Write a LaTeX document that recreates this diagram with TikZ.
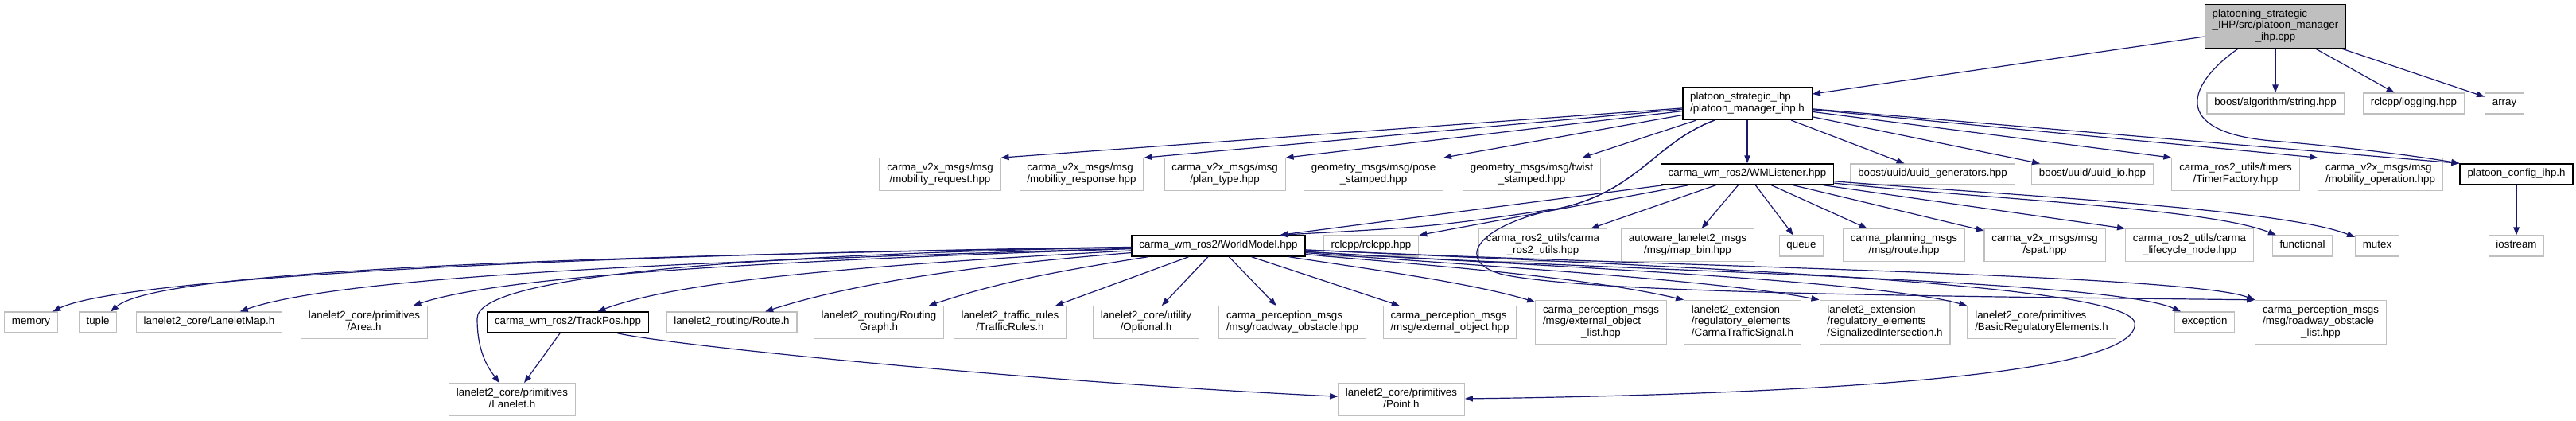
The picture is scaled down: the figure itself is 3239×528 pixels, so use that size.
\documentclass[tikz,border=0pt]{standalone}
\usepackage{fontspec}
\setmainfont{Liberation Sans}
\usetikzlibrary{arrows.meta}

\definecolor{edgeblue}{HTML}{191970}
\definecolor{boxgrey}{HTML}{BFBFBF}

% label: all lines left, last line centred
\newcommand{\flab}[2]{\begin{tabular}{@{}l@{}}#1\multicolumn{1}{@{}c@{}}{#2}\end{tabular}}

\tikzset{
  hfile/.style={draw=boxgrey, line width=0.8pt, fill=white, inner xsep=7pt, inner ysep=4.25pt, font=\fontsize{10}{11}\selectfont},
  docfile/.style={hfile, draw=black, line width=1.1pt},
  srcfile/.style={docfile, fill=boxgrey},
  dep/.style={draw=edgeblue, line width=0.9pt, -{Triangle[length=7.5pt,width=5.5pt]}},
}

\begin{document}
\begin{tikzpicture}[x=0.75pt, y=-0.75pt]
\useasboundingbox (0,0) rectangle (3239,528);

%%% files
\node[srcfile] (root) at (2861,33) {\flab{platooning\_strategic\\\_IHP/src/platoon\_manager\\}{\_ihp.cpp}};

%% row 1
\node[docfile] (pmh) at (2197,130) {\flab{platoon\_strategic\_ihp\\}{/platoon\_manager\_ihp.h}};
\node[hfile] (balg) at (2861,130) {\flab{}{boost/algorithm/string.hpp}};
\node[hfile] (rlog) at (3035,130) {\flab{}{rclcpp/logging.hpp}};
\node[hfile] (arr) at (3149,130) {\flab{}{array}};

%% row 2
\node[hfile] (mreq) at (1182,219) {\flab{carma\_v2x\_msgs/msg\\}{/mobility\_request.hpp}};
\node[hfile] (mresp) at (1360,219) {\flab{carma\_v2x\_msgs/msg\\}{/mobility\_response.hpp}};
\node[hfile] (ptype) at (1540,219) {\flab{carma\_v2x\_msgs/msg\\}{/plan\_type.hpp}};
\node[hfile] (pose) at (1727,219) {\flab{geometry\_msgs/msg/pose\\}{\_stamped.hpp}};
\node[hfile] (twist) at (1926,219) {\flab{geometry\_msgs/msg/twist\\}{\_stamped.hpp}};
\node[docfile] (wml) at (2197,219) {\flab{}{carma\_wm\_ros2/WMListener.hpp}};
\node[hfile] (ugen) at (2430,219) {\flab{}{boost/uuid/uuid\_generators.hpp}};
\node[hfile] (uio) at (2631,219) {\flab{}{boost/uuid/uuid\_io.hpp}};
\node[hfile] (timer) at (2811,219) {\flab{carma\_ros2\_utils/timers\\}{/TimerFactory.hpp}};
\node[hfile] (mop) at (2993,219) {\flab{carma\_v2x\_msgs/msg\\}{/mobility\_operation.hpp}};
\node[docfile] (cfg) at (3164,219) {\flab{}{platoon\_config\_ihp.h}};

%% row 3
\node[docfile] (wm) at (1532,309) {\flab{}{carma\_wm\_ros2/WorldModel.hpp}};
\node[hfile] (rcl) at (1724,309) {\flab{}{rclcpp/rclcpp.hpp}};
\node[hfile] (cru) at (1940,308) {\flab{carma\_ros2\_utils/carma\\}{\_ros2\_utils.hpp}};
\node[hfile] (mbin) at (2122,308) {\flab{autoware\_lanelet2\_msgs\\}{/msg/map\_bin.hpp}};
\node[hfile] (queue) at (2265,309) {\flab{}{queue}};
\node[hfile] (route) at (2394,308) {\flab{carma\_planning\_msgs\\}{/msg/route.hpp}};
\node[hfile] (spat) at (2571,308) {\flab{carma\_v2x\_msgs/msg\\}{/spat.hpp}};
\node[hfile] (lcn) at (2753,308) {\flab{carma\_ros2\_utils/carma\\}{\_lifecycle\_node.hpp}};
\node[hfile] (func) at (2895,309) {\flab{}{functional}};
\node[hfile] (mutex) at (2989,309) {\flab{}{mutex}};
\node[hfile] (ios) at (3164,309) {\flab{}{iostream}};

%% row 4
\node[hfile] (mem) at (39,405) {\flab{}{memory}};
\node[hfile] (tup) at (123,405) {\flab{}{tuple}};
\node[hfile] (lmap) at (263,405) {\flab{}{lanelet2\_core/LaneletMap.h}};
\node[hfile] (area) at (458,405) {\flab{lanelet2\_core/primitives\\}{/Area.h}};
\node[docfile] (tpos) at (714,405) {\flab{}{carma\_wm\_ros2/TrackPos.hpp}};
\node[hfile] (rte) at (920,405) {\flab{}{lanelet2\_routing/Route.h}};
\node[hfile] (rgraph) at (1105,405) {\flab{lanelet2\_routing/Routing\\}{Graph.h}};
\node[hfile] (trules) at (1270,405) {\flab{lanelet2\_traffic\_rules\\}{/TrafficRules.h}};
\node[hfile] (opt) at (1441,405) {\flab{lanelet2\_core/utility\\}{/Optional.h}};
\node[hfile] (robs) at (1625,405) {\flab{carma\_perception\_msgs\\}{/msg/roadway\_obstacle.hpp}};
\node[hfile] (eobj) at (1823,405) {\flab{carma\_perception\_msgs\\}{/msg/external\_object.hpp}};
\node[hfile] (eobjl) at (2013,405) {\flab{carma\_perception\_msgs\\/msg/external\_object\\}{\_list.hpp}};
\node[hfile] (cts) at (2191,405) {\flab{lanelet2\_extension\\/regulatory\_elements\\}{/CarmaTrafficSignal.h}};
\node[hfile] (sint) at (2370,405) {\flab{lanelet2\_extension\\/regulatory\_elements\\}{/SignalizedIntersection.h}};
\node[hfile] (breg) at (2567,405) {\flab{lanelet2\_core/primitives\\}{/BasicRegulatoryElements.h}};
\node[hfile] (exc) at (2772,405) {\flab{}{exception}};
\node[hfile] (robsl) at (2918,405) {\flab{carma\_perception\_msgs\\/msg/roadway\_obstacle\\}{\_list.hpp}};

%% row 5
\node[hfile] (llet) at (644,502) {\flab{lanelet2\_core/primitives\\}{/Lanelet.h}};
\node[hfile] (pt) at (1762,502) {\flab{lanelet2\_core/primitives\\}{/Point.h}};

%%% includes
%% from the .cpp
\draw[dep] (root) -- (pmh);
\draw[dep] (root) -- (balg);
\draw[dep] (root) -- (rlog);
\draw[dep] (root) -- (arr);
\draw[dep] (root.211) .. controls (2745,110) and (2730,170) .. (2870,178) .. controls (2980,188) and (3050,198) .. (cfg.north west);

%% from platoon_manager_ihp.h
\draw[dep] (pmh) -- (mreq.north east);
\draw[dep] (pmh) -- (mresp.north east);
\draw[dep] (pmh) -- (ptype.north east);
\draw[dep] (pmh) -- (pose.north east);
\draw[dep] (pmh) -- (twist);
\draw[dep] (pmh) -- (wml);
\draw[dep] (pmh) -- (ugen);
\draw[dep] (pmh) -- (uio);
\draw[dep] (pmh) -- (timer.north west);
\draw[dep] (pmh) -- (mop.north west);
\draw[dep] (pmh) -- (cfg.north west);
\draw[dep] (pmh.207) .. controls (2080,180) and (2060,240) .. (1960,262) .. controls (1800,285) .. ([xshift=-24pt]wm.north east);
\draw[dep] (pmh.207) .. controls (2080,180) and (2060,240) .. (1960,262) .. controls (1850,285) and (1830,330) .. (1890,345) .. controls (2000,368) and (2400,372) .. (robsl.north west);

%% from WMListener.hpp
\draw[dep] (wml) -- ([xshift=-24pt]wm.north east);
\draw[dep] (wml) -- (rcl.north east);
\draw[dep] (wml) -- (cru);
\draw[dep] (wml) -- (mbin);
\draw[dep] (wml) -- (queue);
\draw[dep] (wml) -- (route);
\draw[dep] (wml) -- (spat);
\draw[dep] (wml) -- (lcn.north west);
\draw[dep] (wml) .. controls (2500,250) and (2780,262) .. (func);
\draw[dep] (wml) .. controls (2520,245) and (2870,262) .. (mutex);

%% from platoon_config_ihp.h
\draw[dep] (cfg) -- (ios);

%% from WorldModel.hpp
\draw[dep] (wm) .. controls (700,320) and (150,350) .. (mem);
\draw[dep] (wm) .. controls (700,322) and (200,340) .. (tup);
\draw[dep] (wm) .. controls (800,330) and (420,350) .. (lmap);
\draw[dep] (wm) .. controls (900,330) and (620,350) .. (area);
\draw[dep] (wm) .. controls (1050,335) and (850,355) .. (tpos);
\draw[dep] (wm) .. controls (1200,335) and (1060,360) .. (rte);
\draw[dep] (wm) .. controls (1300,345) and (1240,360) .. (rgraph);
\draw[dep] (wm) -- (trules);
\draw[dep] (wm) -- (opt);
\draw[dep] (wm) -- (robs);
\draw[dep] (wm) -- (eobj);
\draw[dep] (wm) .. controls (1700,335) and (1850,355) .. (eobjl);
\draw[dep] (wm) .. controls (1750,330) and (1980,345) .. (cts.north west);
\draw[dep] (wm) .. controls (1800,330) and (2150,350) .. (sint.north west);
\draw[dep] (wm) .. controls (1850,330) and (2350,350) .. (breg.north west);
\draw[dep] (wm) .. controls (2000,340) and (2650,350) .. (exc);
\draw[dep] (wm) .. controls (2100,335) and (2750,345) .. (robsl.north west);
\draw[dep] (wm) .. controls (900,320) and (600,350) .. (600,400) .. controls (600,440) and (612,460) .. (llet);
\draw[dep] (wm) .. controls (2100,335) and (2670,355) .. (2684,405) .. controls (2695,470) and (2300,495) .. (pt);

%% from TrackPos.hpp
\draw[dep] (tpos) -- (llet);
\draw[dep] (tpos) .. controls (850,435) and (1300,480) .. (pt);

\end{tikzpicture}
\end{document}
